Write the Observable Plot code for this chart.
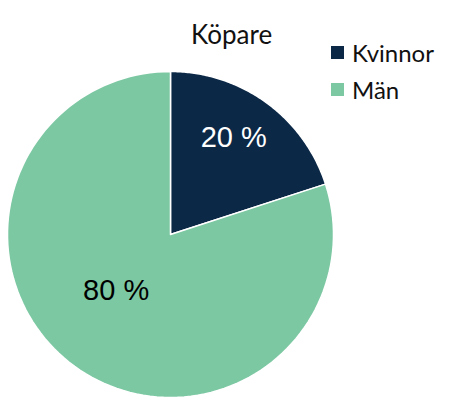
<!DOCTYPE html>
<html>
<head>
<meta charset="utf-8">
<script src="https://cdn.jsdelivr.net/npm/d3@7"></script>
<script src="https://cdn.jsdelivr.net/npm/@observablehq/plot@0.6"></script>
<style>
  html, body { margin: 0; padding: 0; background: #fff; }
  #wrap { position: relative; width: 471px; height: 419px; font-family: Lato, "Open Sans", sans-serif; }
  #title { position: absolute; left: 191px; top: 18px; font-size: 26px; color: #111; }
  #legend { position: absolute; left: 331px; top: 34px; font-size: 24px; color: #111; }
  .item { display: flex; align-items: center; height: 37px; }
  .sw { width: 13px; height: 13px; margin-right: 8px; }
</style>
</head>
<body>
<div id="wrap">
  <div id="chart"></div>
  <div id="title"></div>
  <div id="legend"></div>
</div>
<script>
const title = "Köpare";
const categories = ["Kvinnor", "Män"];
const values = [20, 80];
const colors = ["#0c2847", "#7cc8a3"];
const labelColors = ["#ffffff", "#000000"];
const labels = ["20 %", "80 %"];

const data = categories.map((c, i) => ({category: c, value: values[i], label: labels[i]}));
const arcs = d3.pie().sort(null).value(d => d.value)(data);

// Polygon points (unit circle coordinates) for each slice
const pts = [];
arcs.forEach(a => {
  const n = 120;
  pts.push({category: a.data.category, x: 0, y: 0});
  for (let k = 0; k <= n; k++) {
    const t = a.startAngle + (a.endAngle - a.startAngle) * k / n;
    pts.push({category: a.data.category, x: Math.sin(t), y: Math.cos(t)});
  }
  pts.push({category: a.data.category, x: 0, y: 0});
});

const labelRadius = {Kvinnor: 0.71, "Män": 0.48};
const labelAngleShift = {Kvinnor: -0.05, "Män": 0.14};
const labelPts = arcs.map(a => {
  const m = (a.startAngle + a.endAngle) / 2 + labelAngleShift[a.data.category];
  const r = labelRadius[a.data.category];
  return {category: a.data.category, label: a.data.label, x: r * Math.sin(m), y: r * Math.cos(m)};
});

const plot = Plot.plot({
  width: 471,
  height: 419,
  margin: 0,
  x: {domain: [-1, 1], range: [7, 333], axis: null},
  y: {domain: [-1, 1], range: [397, 71], axis: null},
  color: {domain: categories, range: colors},
  marks: [
    Plot.line(pts, {x: "x", y: "y", z: "category", fill: "category", stroke: "white", strokeWidth: 1.5, curve: "linear"}),
    Plot.text(labelPts, {x: "x", y: "y", text: "label", fill: d => labelColors[categories.indexOf(d.category)],
      fontSize: 29, fontFamily: "Liberation Sans, Arial, sans-serif"})
  ]
});
document.getElementById("chart").appendChild(plot);

document.getElementById("title").textContent = title;
const legend = document.getElementById("legend");
categories.forEach((c, i) => {
  const it = document.createElement("div");
  it.className = "item";
  const sw = document.createElement("div");
  sw.className = "sw";
  sw.style.background = colors[i];
  const tx = document.createElement("span");
  tx.textContent = c;
  it.appendChild(sw);
  it.appendChild(tx);
  legend.appendChild(it);
});
</script>
</body>
</html>
